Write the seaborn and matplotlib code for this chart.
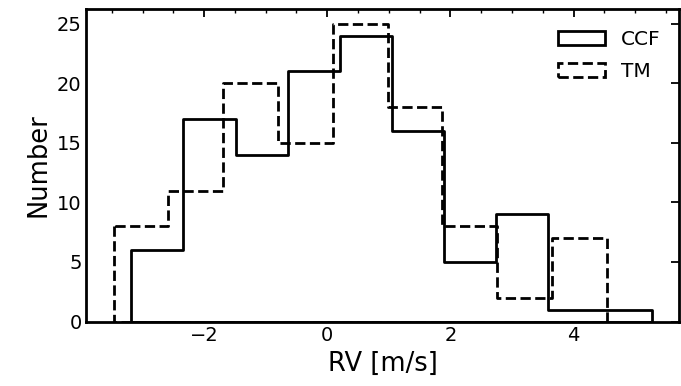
import numpy as np
import pandas as pd
import seaborn as sns
import matplotlib
matplotlib.use("Agg")
import matplotlib.pyplot as plt
from matplotlib.patches import Patch

# Histogram data
ccf_edges = [-3.18, -2.335, -1.49, -0.645, 0.20, 1.045, 1.89, 2.735, 3.58, 4.425, 5.27]
ccf_counts = [6, 17, 14, 21, 24, 16, 5, 9, 1, 1]
tm_edges = [-3.47, -2.58, -1.69, -0.80, 0.09, 0.98, 1.87, 2.76, 3.65, 4.54]
tm_counts = [8, 11, 20, 15, 25, 18, 8, 2, 7]

xlabel = "RV [m/s]"
ylabel = "Number"
legend_labels = ["CCF", "TM"]

sns.set_theme(style="white")
plt.rcParams['font.family'] = ['DejaVu Sans']
plt.rcParams['text.color'] = 'black'

fig = plt.figure(figsize=(6.81, 3.86), dpi=100)
ax = fig.add_axes([0.127, 0.167, 0.870, 0.810])

def centers(edges):
    e = np.asarray(edges)
    return (e[:-1] + e[1:]) / 2

df_ccf = pd.DataFrame({"rv": centers(ccf_edges), "w": ccf_counts})
df_tm = pd.DataFrame({"rv": centers(tm_edges), "w": tm_counts})

lw = 2.0
clear = (1, 1, 1, 0)
sns.histplot(data=df_ccf, x="rv", weights="w", bins=ccf_edges, element="step",
             fill=True, color="black", facecolor=clear, edgecolor="black",
             linewidth=lw, ax=ax)
sns.histplot(data=df_tm, x="rv", weights="w", bins=tm_edges, element="step",
             fill=True, color="black", facecolor=clear, edgecolor="black",
             linewidth=lw, linestyle="--", ax=ax)

ax.set_xlim(-3.91, 5.71)
ax.set_ylim(0, 26.25)
ax.set_xticks([-2, 0, 2, 4])
ax.set_yticks([0, 5, 10, 15, 20, 25])
ax.xaxis.set_minor_locator(matplotlib.ticker.MultipleLocator(0.5))
ax.tick_params(which="both", direction="in", top=True, right=True, colors="black",
               labelsize=14)
ax.tick_params(which="major", length=6, width=1.3)
ax.tick_params(which="minor", length=3, width=1.0)
ax.tick_params(axis="y", which="minor", left=False, right=False)
for s in ax.spines.values():
    s.set_linewidth(2)
    s.set_color("black")
    s.set_zorder(5)

ax.set_xlabel(xlabel, fontsize=18.5, color="black")
ax.set_ylabel(ylabel, fontsize=18.5, color="black")

handles = [Patch(facecolor="none", edgecolor="black", linewidth=lw),
           Patch(facecolor="none", edgecolor="black", linewidth=lw, linestyle="--")]
leg = ax.legend(handles, legend_labels, loc="upper right", frameon=False, fontsize=14.5,
                handlelength=2.3, labelspacing=0.65, borderaxespad=0.7,
                bbox_to_anchor=(1.006, 1.004))
for t in leg.get_texts():
    t.set_color("black")

fig.savefig("out.png", dpi=100)
